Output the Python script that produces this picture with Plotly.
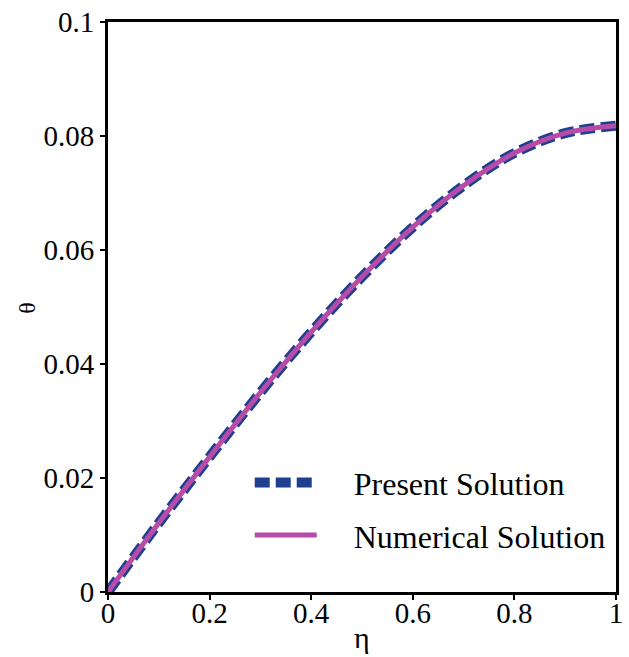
import plotly.graph_objects as go

eta = [0, 0.1, 0.2, 0.3, 0.4, 0.5, 0.6, 0.7, 0.8, 0.9, 1.0]
theta_present = [0, 0.0121, 0.0237, 0.0350, 0.0456, 0.0553, 0.0640, 0.0713, 0.0770, 0.0805, 0.0818]
theta_numerical = [0, 0.0121, 0.0237, 0.0350, 0.0456, 0.0553, 0.0640, 0.0713, 0.0770, 0.0805, 0.0818]

x_ticks = [0, 0.2, 0.4, 0.6, 0.8, 1]
x_tick_text = ["0", "0.2", "0.4", "0.6", "0.8", "1"]
y_ticks = [0, 0.02, 0.04, 0.06, 0.08, 0.1]
y_tick_text = ["0", "0.02", "0.04", "0.06", "0.08", "0.1"]

FONT = "Liberation Serif, Times New Roman, serif"
BLUE = "#1f3f8f"
MAGENTA = "#b64ca7"
PAD = "\u00a0\u00a0\u00a0\u00a0"

fig = go.Figure()
fig.add_trace(go.Scatter(
    x=eta, y=theta_present, mode="lines", name=PAD + "Present Solution",
    legendgroup="a",
    line=dict(color=BLUE, width=10, dash="15px,6px", shape="spline"),
))
fig.add_trace(go.Scatter(
    x=eta, y=theta_numerical, mode="lines", name=PAD + "Numerical Solution",
    legendgroup="b",
    line=dict(color=MAGENTA, width=5, shape="spline"),
))

axis_common = dict(
    showgrid=False, zeroline=False, showline=True, linecolor="black", linewidth=3,
    mirror=True, ticks="outside", ticklen=5, tickwidth=2, tickcolor="black",
    tickfont=dict(family=FONT, size=29, color="black"),
)
fig.update_xaxes(range=[0, 1], tickvals=x_ticks, ticktext=x_tick_text,
                 ticklabelstandoff=-12, **axis_common)
fig.update_yaxes(range=[0, 0.1], tickvals=y_ticks, ticktext=y_tick_text, **axis_common)

fig.add_annotation(text="η", xref="paper", yref="paper", x=0.5, y=-0.08,
                   showarrow=False, font=dict(family=FONT, size=30, color="black"),
                   xanchor="center", yanchor="middle")
fig.add_annotation(text="θ", xref="paper", yref="paper", x=-0.161, y=0.499,
                   showarrow=False, textangle=-90,
                   font=dict(family=FONT, size=24, color="black"),
                   xanchor="center", yanchor="middle")

fig.update_layout(
    width=629, height=657,
    margin=dict(l=108, r=6, t=20, b=65),
    plot_bgcolor="white", paper_bgcolor="white",
    font=dict(family=FONT, color="black"),
    showlegend=True,
    legend=dict(x=0.279, y=0.24, xanchor="left", yanchor="top",
                bgcolor="rgba(0,0,0,0)", font=dict(family=FONT, size=32, color="black"),
                itemwidth=62, tracegroupgap=8, traceorder="grouped"),
)

fig.write_html("out.html")
